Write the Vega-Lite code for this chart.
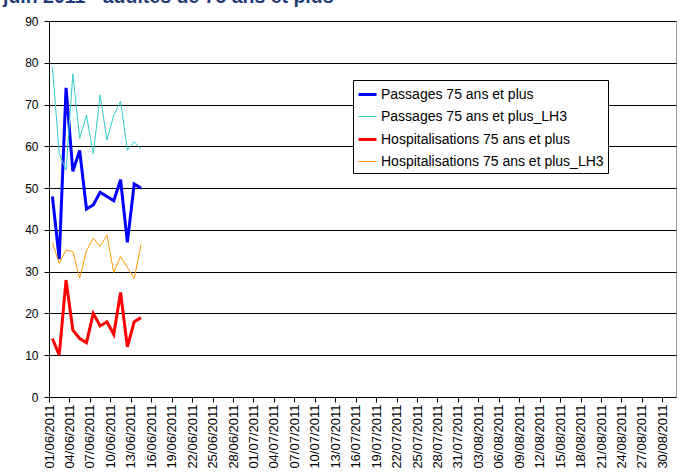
{
  "$schema": "https://vega.github.io/schema/vega-lite/v6.json",
  "width": 627,
  "height": 376,
  "autosize": {"type": "none"},
  "padding": {"left": 49, "top": 21, "right": 11, "bottom": 78},
  "background": "white",
  "title": {
    "text": "juin 2011 - adultes de 75 ans et plus",
    "anchor": "start",
    "frame": "group",
    "dx": -46,
    "dy": 11,
    "offset": 4,
    "baseline": "alphabetic",
    "font": "Liberation Sans",
    "fontSize": 19.5,
    "fontWeight": "bold",
    "color": "#1f3d7a"
  },
  "config": {
    "font": "Liberation Sans",
    "view": {"stroke": "#a0a0a0", "strokeWidth": 1}
  },
  "data": {
    "values": [
      {"date": "2011/06/01", "serie": "Passages 75 ans et plus", "value": 48},
      {"date": "2011/06/02", "serie": "Passages 75 ans et plus", "value": 33},
      {"date": "2011/06/03", "serie": "Passages 75 ans et plus", "value": 74},
      {"date": "2011/06/04", "serie": "Passages 75 ans et plus", "value": 54},
      {"date": "2011/06/05", "serie": "Passages 75 ans et plus", "value": 59},
      {"date": "2011/06/06", "serie": "Passages 75 ans et plus", "value": 45},
      {"date": "2011/06/07", "serie": "Passages 75 ans et plus", "value": 46},
      {"date": "2011/06/08", "serie": "Passages 75 ans et plus", "value": 49},
      {"date": "2011/06/09", "serie": "Passages 75 ans et plus", "value": 48},
      {"date": "2011/06/10", "serie": "Passages 75 ans et plus", "value": 47},
      {"date": "2011/06/11", "serie": "Passages 75 ans et plus", "value": 52},
      {"date": "2011/06/12", "serie": "Passages 75 ans et plus", "value": 37},
      {"date": "2011/06/13", "serie": "Passages 75 ans et plus", "value": 51},
      {"date": "2011/06/14", "serie": "Passages 75 ans et plus", "value": 50},
      {"date": "2011/06/01", "serie": "Passages 75 ans et plus_LH3", "value": 79},
      {"date": "2011/06/02", "serie": "Passages 75 ans et plus_LH3", "value": 58.3},
      {"date": "2011/06/03", "serie": "Passages 75 ans et plus_LH3", "value": 54.3},
      {"date": "2011/06/04", "serie": "Passages 75 ans et plus_LH3", "value": 77.3},
      {"date": "2011/06/05", "serie": "Passages 75 ans et plus_LH3", "value": 61.9},
      {"date": "2011/06/06", "serie": "Passages 75 ans et plus_LH3", "value": 67.4},
      {"date": "2011/06/07", "serie": "Passages 75 ans et plus_LH3", "value": 58.2},
      {"date": "2011/06/08", "serie": "Passages 75 ans et plus_LH3", "value": 72.3},
      {"date": "2011/06/09", "serie": "Passages 75 ans et plus_LH3", "value": 61.5},
      {"date": "2011/06/10", "serie": "Passages 75 ans et plus_LH3", "value": 67.4},
      {"date": "2011/06/11", "serie": "Passages 75 ans et plus_LH3", "value": 70.8},
      {"date": "2011/06/12", "serie": "Passages 75 ans et plus_LH3", "value": 59.1},
      {"date": "2011/06/13", "serie": "Passages 75 ans et plus_LH3", "value": 61.1},
      {"date": "2011/06/14", "serie": "Passages 75 ans et plus_LH3", "value": 59.4},
      {"date": "2011/06/01", "serie": "Hospitalisations 75 ans et plus", "value": 14},
      {"date": "2011/06/02", "serie": "Hospitalisations 75 ans et plus", "value": 10},
      {"date": "2011/06/03", "serie": "Hospitalisations 75 ans et plus", "value": 28},
      {"date": "2011/06/04", "serie": "Hospitalisations 75 ans et plus", "value": 16},
      {"date": "2011/06/05", "serie": "Hospitalisations 75 ans et plus", "value": 14},
      {"date": "2011/06/06", "serie": "Hospitalisations 75 ans et plus", "value": 13},
      {"date": "2011/06/07", "serie": "Hospitalisations 75 ans et plus", "value": 20},
      {"date": "2011/06/08", "serie": "Hospitalisations 75 ans et plus", "value": 17},
      {"date": "2011/06/09", "serie": "Hospitalisations 75 ans et plus", "value": 18},
      {"date": "2011/06/10", "serie": "Hospitalisations 75 ans et plus", "value": 15},
      {"date": "2011/06/11", "serie": "Hospitalisations 75 ans et plus", "value": 25},
      {"date": "2011/06/12", "serie": "Hospitalisations 75 ans et plus", "value": 12},
      {"date": "2011/06/13", "serie": "Hospitalisations 75 ans et plus", "value": 18},
      {"date": "2011/06/14", "serie": "Hospitalisations 75 ans et plus", "value": 19},
      {"date": "2011/06/01", "serie": "Hospitalisations 75 ans et plus_LH3", "value": 37},
      {"date": "2011/06/02", "serie": "Hospitalisations 75 ans et plus_LH3", "value": 32},
      {"date": "2011/06/03", "serie": "Hospitalisations 75 ans et plus_LH3", "value": 35.2},
      {"date": "2011/06/04", "serie": "Hospitalisations 75 ans et plus_LH3", "value": 34.8},
      {"date": "2011/06/05", "serie": "Hospitalisations 75 ans et plus_LH3", "value": 28.4},
      {"date": "2011/06/06", "serie": "Hospitalisations 75 ans et plus_LH3", "value": 35},
      {"date": "2011/06/07", "serie": "Hospitalisations 75 ans et plus_LH3", "value": 38},
      {"date": "2011/06/08", "serie": "Hospitalisations 75 ans et plus_LH3", "value": 36},
      {"date": "2011/06/09", "serie": "Hospitalisations 75 ans et plus_LH3", "value": 38.8},
      {"date": "2011/06/10", "serie": "Hospitalisations 75 ans et plus_LH3", "value": 29.8},
      {"date": "2011/06/11", "serie": "Hospitalisations 75 ans et plus_LH3", "value": 33.6},
      {"date": "2011/06/12", "serie": "Hospitalisations 75 ans et plus_LH3", "value": 31},
      {"date": "2011/06/13", "serie": "Hospitalisations 75 ans et plus_LH3", "value": 28.4},
      {"date": "2011/06/14", "serie": "Hospitalisations 75 ans et plus_LH3", "value": 36.4}
    ]
  },
  "mark": {"type": "line", "strokeJoin": "miter", "strokeCap": "butt"},
  "encoding": {
    "x": {
      "field": "date",
      "type": "temporal",
      "timeUnit": "yearmonthdate",
      "bandPosition": 0.5,
      "title": null,
      "scale": {
        "domain": [
          {"year": 2011, "month": 6, "date": 1},
          {"year": 2011, "month": 9, "date": 1}
        ]
      },
      "axis": {
        "values": [
          {"year": 2011, "month": 6, "date": 1}, {"year": 2011, "month": 6, "date": 4},
          {"year": 2011, "month": 6, "date": 7}, {"year": 2011, "month": 6, "date": 10},
          {"year": 2011, "month": 6, "date": 13}, {"year": 2011, "month": 6, "date": 16},
          {"year": 2011, "month": 6, "date": 19}, {"year": 2011, "month": 6, "date": 22},
          {"year": 2011, "month": 6, "date": 25}, {"year": 2011, "month": 6, "date": 28},
          {"year": 2011, "month": 7, "date": 1}, {"year": 2011, "month": 7, "date": 4},
          {"year": 2011, "month": 7, "date": 7}, {"year": 2011, "month": 7, "date": 10},
          {"year": 2011, "month": 7, "date": 13}, {"year": 2011, "month": 7, "date": 16},
          {"year": 2011, "month": 7, "date": 19}, {"year": 2011, "month": 7, "date": 22},
          {"year": 2011, "month": 7, "date": 25}, {"year": 2011, "month": 7, "date": 28},
          {"year": 2011, "month": 7, "date": 31}, {"year": 2011, "month": 8, "date": 3},
          {"year": 2011, "month": 8, "date": 6}, {"year": 2011, "month": 8, "date": 9},
          {"year": 2011, "month": 8, "date": 12}, {"year": 2011, "month": 8, "date": 15},
          {"year": 2011, "month": 8, "date": 18}, {"year": 2011, "month": 8, "date": 21},
          {"year": 2011, "month": 8, "date": 24}, {"year": 2011, "month": 8, "date": 27},
          {"year": 2011, "month": 8, "date": 30}
        ],
        "format": "%d/%m/%Y",
        "formatType": "time",
        "labelAngle": 270,
        "labelAlign": "right",
        "labelBaseline": "middle",
        "labelFontSize": 13,
        "labelColor": "#000000",
        "labelPadding": 2,
        "labelOverlap": false,
        "labelFlush": false,
        "grid": false,
        "tickSize": 5,
        "tickColor": "#000000",
        "domainColor": "#000000",
        "domainWidth": 1
      }
    },
    "y": {
      "field": "value",
      "type": "quantitative",
      "title": null,
      "scale": {"domain": [0, 90], "nice": false},
      "axis": {
        "values": [0, 10, 20, 30, 40, 50, 60, 70, 80, 90],
        "labelFontSize": 12,
        "labelColor": "#000000",
        "labelPadding": 6,
        "tickSize": 5,
        "tickColor": "#000000",
        "domainColor": "#000000",
        "grid": true,
        "gridColor": "#000000",
        "gridOpacity": 1,
        "gridWidth": 1
      }
    },
    "color": {
      "field": "serie",
      "type": "nominal",
      "title": null,
      "scale": {
        "domain": ["Passages 75 ans et plus", "Passages 75 ans et plus_LH3", "Hospitalisations 75 ans et plus", "Hospitalisations 75 ans et plus_LH3"],
        "range": ["#0000ff", "#33cccc", "#ff0000", "#ff9900"]
      },
      "legend": {
        "orient": "none",
        "legendX": 304,
        "legendY": 59,
        "symbolType": "stroke",
        "symbolSize": 324,
        "labelFontSize": 14,
        "labelColor": "#000000",
        "labelLimit": 400,
        "labelOffset": 3,
        "rowPadding": 5,
        "padding": 4,
        "fillColor": "#ffffff",
        "strokeColor": "#000000"
      }
    },
    "strokeWidth": {
      "field": "serie",
      "type": "nominal",
      "title": null,
      "scale": {
        "type": "ordinal",
        "domain": ["Passages 75 ans et plus", "Passages 75 ans et plus_LH3", "Hospitalisations 75 ans et plus", "Hospitalisations 75 ans et plus_LH3"],
        "range": [3, 1, 3, 1]
      }
    }
  }
}
